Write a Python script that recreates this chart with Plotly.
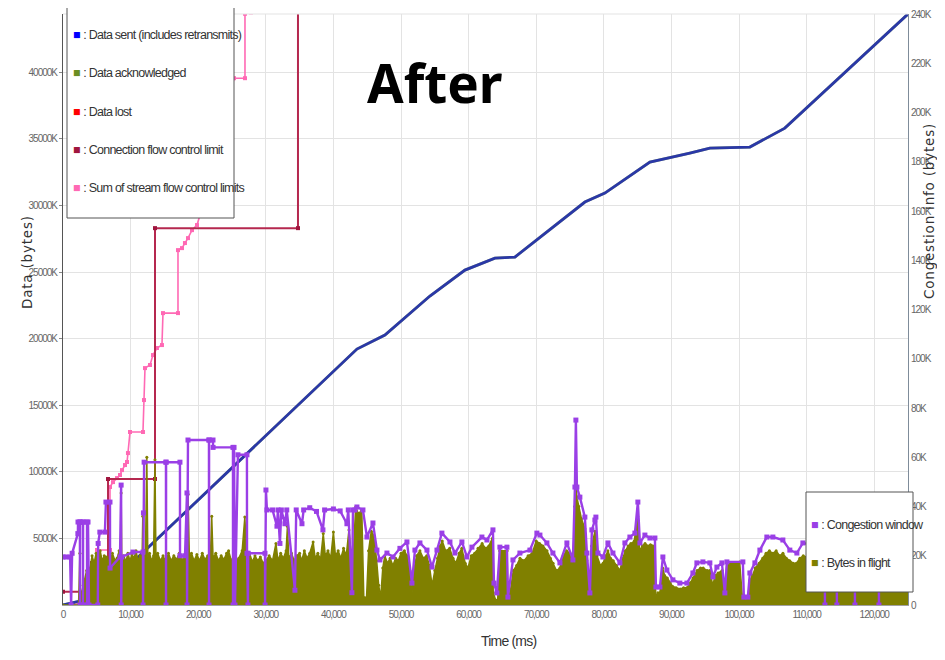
import plotly.graph_objects as go

# ---------------- data (left axis: K bytes, right axis: K bytes, time: ms) ----------------
sent_t = [0, 2500, 5000, 7500, 10350, 43480, 47620, 54280, 59460, 63890,
          66850, 70550, 77200, 80160, 86820, 92730, 95690, 101610, 106780, 124980]
sent_k = [0, 300, 1000, 2000, 3230, 19220, 20270, 23200, 25150, 26050,
          26130, 27630, 30260, 30930, 33260, 33940, 34310, 34390, 35810, 44370]

acked_t = [0, 2500, 5000, 7500, 10350, 43480, 47620, 54280, 59460, 63890,
           66850, 70550, 77200, 80160, 86820, 92730, 95690, 101610, 106780, 124980]
acked_k = [0, 300, 1000, 2000, 3230, 19220, 20270, 23200, 25150, 26050,
           26130, 27630, 30260, 30930, 33260, 33940, 34310, 34390, 35810, 44370]

conn_fc_t = [0, 4290, 4290, 6660, 6660, 13610, 13610, 34760, 34760]
conn_fc_k = [1000, 1000, 3150, 3150, 9460, 9460, 28300, 28300, 46000]

stream_fc_t = [1480, 2510, 3550, 4290, 4440, 4730, 5030, 6950, 6950, 7400,
               7990, 8430, 8730, 9170, 9470, 9610, 9910, 11830, 11980, 12130,
               12870, 13310, 13900, 14640, 14790, 17010, 17010, 17600, 18040, 18490,
               19080, 19820, 21000, 22500, 24000, 25300, 26920, 26920, 27800]
stream_fc_k = [0, 150, 600, 1130, 1650, 2850, 4130, 4130, 8860, 9230,
               9530, 9760, 10130, 10510, 10740, 11410, 12990, 12990, 15390, 17790,
               18020, 18770, 19300, 19520, 21920, 21920, 26650, 26800, 27180, 27550,
               28150, 28530, 30500, 33500, 36500, 39560, 39560, 44400, 44500]

# congestion window: (time ms, K bytes)
cwnd_points = [
    (0, 19.5), (450, 19.5), (1050, 19.5), (1200, 0), (1350, 21), (2200, 29), (2220, 33.7),
    (2500, 33.7), (2510, 0), (2520, 33.7), (2950, 33.7), (2960, 0), (2970, 33.7), (3550, 33.7),
    (3560, 0), (3700, 33.7), (3850, 0), (5150, 0), (5200, 25), (5450, 29.6), (6200, 29.6),
    (6350, 41.8), (6950, 41.8), (6960, 15), (8430, 19.5), (8600, 48.7), (8610, 0), (8700, 19.5),
    (10350, 21.5), (11830, 21.5), (11840, 0), (11900, 37.4), (12000, 58), (15230, 58), (15240, 0),
    (15250, 58), (17300, 58), (17310, 20), (18050, 20), (18340, 45.5), (18350, 0), (18490, 67),
    (21590, 67), (21600, 0), (21610, 67), (22190, 67), (22200, 64), (25140, 64), (25150, 0),
    (25300, 64), (25440, 0), (25880, 61), (27210, 61), (27220, 21), (27360, 0), (27400, 21),
    (29880, 21), (29890, 0), (30020, 46.7), (30170, 38.6), (31000, 38.6), (31650, 32), (31800, 38.6),
    (32090, 25), (32300, 38.6), (32830, 33), (33100, 38.6), (34310, 6), (34500, 38.6), (35350, 33),
    (35600, 38.6), (36500, 39.5), (37500, 38), (38450, 30.5), (38700, 38.6), (40000, 39), (41000, 38.2),
    (42000, 33), (42200, 38.6), (42740, 5), (42900, 38.6), (43190, 38.6), (43480, 39.8), (44370, 38.6),
    (44960, 27.6), (45850, 33.3), (46440, 22.3), (46880, 18.3), (47920, 21.1), (48810, 19.5),
    (49840, 23), (50880, 25.6), (51620, 8.9), (52060, 22.3), (52800, 25.2), (53840, 22.3),
    (54580, 15.4), (55320, 22.3), (56050, 29.2), (57240, 25.6), (57980, 21.1), (59010, 25.6),
    (59750, 19.5), (60490, 23.5), (61970, 27.6), (62710, 26.4), (63600, 30.5), (63750, 8.9),
    (64190, 4.9), (64630, 23.5), (65670, 23.5), (65820, 3.2), (66560, 18.3), (67590, 21.1),
    (69070, 22.3), (70100, 29.2), (70550, 28.4), (71580, 25.2), (72470, 21.1), (73510, 17.1),
    (74540, 25.2), (75430, 18.3), (75730, 47.9), (75870, 75.1), (76020, 47.9), (76460, 43.8),
    (77200, 35.7), (77500, 21.1), (77940, 4.9), (78240, 30.5), (78680, 34.5), (78830, 35.7),
    (79130, 21.1), (79870, 19.5), (80610, 25.2), (81350, 21.1), (82380, 17.1), (83120, 25.2),
    (83860, 27.6), (84600, 29.2), (85040, 41.8), (85340, 25.2), (86080, 28.4), (86820, 27.2),
    (87560, 27.2), (87710, 7.3), (88300, 7.3), (88740, 19.5), (89330, 14.2), (90220, 10.2),
    (91250, 8.9), (92290, 8.9), (93180, 13), (93770, 17.1), (94660, 17.5), (95690, 17.1),
    (96140, 11.4), (96730, 15.4), (97470, 17.1), (97910, 4.9), (98210, 17.5), (100570, 17.5),
    (100720, 3.2), (101310, 3.2), (101610, 13), (102350, 17.1), (103090, 22.3), (104120, 27.6),
    (105010, 27.6), (106490, 26.4), (107520, 22.3), (108560, 21.1), (109450, 25.2), (111960, 24),
    (112700, 24), (112710, 0), (112720, 24), (114470, 24), (114480, 0), (114490, 23), (116400, 23),
    (117140, 23), (117150, 0), (117160, 23), (120690, 24), (120700, 0), (120710, 24), (125000, 23),
]

# bytes in flight (upper envelope): (time ms, K bytes)
inflight_points = [
    (0, 0), (2300, 0), (2500, 21), (2600, 3), (3000, 8), (3500, 14), (4000, 15), (4300, 20),
    (4600, 17), (4900, 21), (5200, 19), (5500, 22), (5800, 18), (6100, 20), (6500, 19.5), (6900, 17),
    (7300, 21), (7700, 18), (8000, 19), (8300, 22), (8500, 18), (8600, 45.5), (8700, 18), (9000, 20),
    (9300, 17.5), (9600, 21), (9900, 18), (10200, 20.5), (10500, 19), (10800, 22), (11100, 18),
    (11400, 20), (11700, 19), (11800, 36), (11900, 18), (12200, 21), (12400, 60), (12550, 19),
    (12800, 21), (13100, 18), (13400, 20), (13600, 59), (13750, 19), (14000, 21), (14400, 18),
    (14800, 20), (15200, 17.5), (15600, 21), (16000, 18), (16400, 20), (16800, 18.5), (17200, 21),
    (17600, 18), (18000, 20), (18300, 22), (18500, 45), (18700, 19), (19000, 21), (19400, 18),
    (19800, 20.5), (20200, 18), (20600, 21), (21000, 18.5), (21400, 20), (21800, 19), (22000, 36),
    (22200, 19), (22600, 21), (23000, 18), (23400, 20), (23800, 18.5), (24200, 21), (24500, 22),
    (24900, 18), (25300, 20), (25700, 18), (26000, 19), (26500, 22), (26900, 35.7), (27200, 19),
    (27600, 21), (28000, 17.5), (28400, 20), (28800, 18), (29200, 19.5), (29600, 17), (30000, 18),
    (30500, 20), (31000, 18), (31500, 25), (31800, 18), (32200, 21), (32600, 19), (33000, 22),
    (33200, 32), (33400, 19), (33800, 21), (34200, 18), (34600, 20), (35000, 21), (35300, 18),
    (35700, 22), (36100, 19), (36500, 21), (37000, 25.6), (37300, 19), (37700, 21), (38100, 18.5),
    (38500, 29), (38800, 20), (39200, 22), (39600, 19), (40000, 29.6), (40300, 20), (40700, 22),
    (41100, 19), (41500, 23), (41900, 20), (42300, 30.5), (42600, 21), (43000, 24), (43300, 39.8),
    (43700, 37), (44200, 38.6), (44500, 3), (44900, 3), (45200, 22), (45600, 30), (46000, 28),
    (46400, 18), (46700, 8), (47000, 3), (47300, 15), (47600, 20), (48000, 17), (48400, 19),
    (48800, 16), (49200, 19), (49600, 18), (50000, 21), (50500, 22), (50900, 20), (51300, 14),
    (51600, 4), (51900, 14), (52300, 20), (52800, 22), (53300, 19), (53800, 20), (54200, 16),
    (54600, 8), (55000, 14), (55400, 19), (55800, 24), (56100, 26), (56600, 22), (57200, 23),
    (57700, 19), (58100, 17), (58600, 21), (59000, 23), (59500, 17), (59900, 15), (60400, 20),
    (60900, 21), (61400, 23), (62000, 25), (62500, 23), (63000, 24), (63500, 27), (63650, 5),
    (64000, 2), (64300, 2), (64600, 22), (65700, 22), (65800, 2), (66200, 6), (66600, 14),
    (67100, 16), (67600, 19), (68200, 18), (68800, 20), (69400, 21), (70000, 26), (70500, 25),
    (71000, 24), (71600, 22), (72100, 19), (72500, 17), (73000, 14), (73500, 15), (74000, 20),
    (74500, 22), (75000, 21), (75400, 14), (75700, 40), (75870, 52), (76000, 44), (76300, 40),
    (76700, 35), (77200, 31), (77500, 18), (77900, 2), (78200, 24), (78700, 30), (79000, 20),
    (79500, 16), (79900, 17), (80300, 20), (80600, 22), (81000, 19), (81400, 18), (81900, 16),
    (82400, 14), (82800, 19), (83200, 22), (83600, 24), (84000, 25), (84500, 26), (85000, 36),
    (85300, 22), (85700, 24), (86100, 25), (86500, 24), (86900, 24.5), (87500, 24), (87700, 3),
    (88000, 5), (88300, 5), (88700, 15), (89000, 12), (89400, 11), (89800, 9), (90200, 7.5),
    (90700, 7), (91300, 6.5), (91800, 7), (92300, 7), (92800, 9), (93200, 11), (93800, 14),
    (94300, 15), (94700, 15), (95300, 14), (95700, 14), (96100, 8), (96500, 12), (96900, 13),
    (97500, 14), (97900, 3), (98200, 17.5), (100100, 17.5), (100500, 3), (100700, 2), (101300, 3),
    (101600, 10), (102000, 12), (102400, 15), (103000, 17), (103500, 19), (104000, 21), (104500, 22),
    (105000, 21), (105500, 22), (106000, 20), (106500, 21), (107000, 19), (107500, 18), (108000, 17),
    (108500, 17), (109000, 19), (109500, 20), (110500, 19), (112000, 20), (114000, 19), (116000, 20),
    (118000, 19), (120000, 20), (122000, 19), (125000, 19),
]

x_ticks = [0, 10000, 20000, 30000, 40000, 50000, 60000, 70000, 80000, 90000, 100000, 110000, 120000]
x_tick_text = ["0", "10,000", "20,000", "30,000", "40,000", "50,000", "60,000", "70,000",
               "80,000", "90,000", "100,000", "110,000", "120,000"]
left_ticks = [5000, 10000, 15000, 20000, 25000, 30000, 35000, 40000]
left_tick_text = ["5000K", "10000K", "15000K", "20000K", "25000K", "30000K", "35000K", "40000K"]
right_ticks = [0, 20, 40, 60, 80, 100, 120, 140, 160, 180, 200, 220, 240]
right_tick_text = ["0", "20K", "40K", "60K", "80K", "100K", "120K", "140K", "160K", "180K", "200K", "220K", "240K"]

legend_top = [("#0000ff", "Data sent (includes retransmits)"),
              ("#6b8e23", "Data acknowledged"),
              ("#ff0000", "Data lost"),
              ("#a0153e", "Connection flow control limit"),
              ("#ff69b4", "Sum of stream flow control limits")]
legend_bottom = [("#9a3fe6", "Congestion window"),
                 ("#808000", "Bytes in flight")]

# ---------------- figure ----------------
SANS = "Liberation Sans, Arial, sans-serif"
PURPLE = "#9a3fe6"
OLIVE = "#808000"


def squeeze(txt, ls):
    return f"<span style='letter-spacing:{ls}px'>{txt}</span>"


cwnd_t = [p[0] for p in cwnd_points]
cwnd_k = [p[1] for p in cwnd_points]
inflight_t = [p[0] for p in inflight_points]
inflight_k = [p[1] for p in inflight_points]

fig = go.Figure()

fig.add_trace(go.Scatter(x=inflight_t, y=inflight_k, yaxis="y2", mode="lines+markers",
                         line=dict(color=OLIVE, width=1.5), marker=dict(size=3, color=OLIVE),
                         fill="tozeroy", fillcolor=OLIVE, name="Bytes in flight"))
fig.add_trace(go.Scatter(x=cwnd_t, y=cwnd_k, yaxis="y2", mode="lines+markers",
                         line=dict(color=PURPLE, width=2.4), marker=dict(size=5, color=PURPLE, symbol="square"),
                         name="Congestion window"))
fig.add_trace(go.Scatter(x=stream_fc_t, y=stream_fc_k, mode="lines+markers",
                         line=dict(color="#ff69b4", width=1.6), marker=dict(size=4, color="#ff69b4", symbol="square"),
                         name="Sum of stream flow control limits"))
fig.add_trace(go.Scatter(x=conn_fc_t, y=conn_fc_k, mode="lines+markers",
                         line=dict(color="#b5284f", width=2), marker=dict(size=4, color="#a0153e", symbol="square"),
                         name="Connection flow control limit"))
fig.add_trace(go.Scatter(x=acked_t, y=acked_k, mode="lines",
                         line=dict(color="#6b8e23", width=2.8), name="Data acknowledged"))
fig.add_trace(go.Scatter(x=sent_t, y=sent_k, mode="lines", opacity=0.6,
                         line=dict(color="#0000ff", width=2.8), name="Data sent (includes retransmits)"))


def px(x):  # screen pixel -> paper x
    return (x - 63) / 845.0


def py(y):  # screen pixel -> paper y
    return (605 - y) / 591.0


shapes = [
    dict(type="line", xref="paper", yref="paper", x0=0, x1=1, y0=1, y1=1,
         line=dict(color="#e3e3e3", width=1)),
    dict(type="rect", xref="paper", yref="paper", x0=px(67), x1=px(234), y0=py(218), y1=py(3),
         fillcolor="white", line=dict(color="#555555", width=1), layer="above"),
    dict(type="rect", xref="paper", yref="paper", x0=px(806), x1=px(913), y0=py(592), y1=py(492),
         fillcolor="white", line=dict(color="#555555", width=1), layer="above"),
]

annotations = []
for i, (col, label) in enumerate(legend_top):
    annotations.append(dict(xref="paper", yref="paper", x=px(71), y=py(35 + i * 38.3),
                            xanchor="left", yanchor="middle", showarrow=False,
                            text=f"<span style='color:{col}'>■</span>" + squeeze(f" : {label}", -0.75),
                            font=dict(family=SANS, size=12.5, color="#333333")))
for i, (col, label) in enumerate(legend_bottom):
    annotations.append(dict(xref="paper", yref="paper", x=px(809), y=py(525 + i * 38),
                            xanchor="left", yanchor="middle", showarrow=False,
                            text=f"<span style='color:{col}'>■</span>" + squeeze(f" : {label}", -0.75),
                            font=dict(family=SANS, size=12.5, color="#333333")))

annotations += [
    dict(xref="paper", yref="paper", x=px(435), y=py(82), xanchor="center", yanchor="middle",
         showarrow=False, text="<b>After</b>",
         font=dict(family="Noto Sans, Open Sans, sans-serif", size=53, color="#000000")),
    dict(xref="paper", yref="paper", x=px(27), y=py(262), xanchor="center", yanchor="middle",
         showarrow=False, textangle=-90, text=squeeze("Data (bytes)", 0.8),
         font=dict(family="DejaVu Sans, sans-serif", size=13.5, color="#333333")),
    dict(xref="paper", yref="paper", x=px(929), y=py(211), xanchor="center", yanchor="middle",
         showarrow=False, textangle=-90, text=squeeze("Congestion info (bytes)", 0.8),
         font=dict(family="DejaVu Sans, sans-serif", size=13.5, color="#333333")),
    dict(xref="paper", yref="paper", x=px(508), y=py(641), xanchor="center", yanchor="middle",
         showarrow=False, text=squeeze("Time (ms)", -0.8),
         font=dict(family=SANS, size=14, color="#333333")),
]

TICKFONT = dict(family=SANS, size=10, color="#666666")

fig.update_layout(
    width=929, height=644,
    margin=dict(l=55, r=29, t=6, b=47, autoexpand=False),
    paper_bgcolor="white", plot_bgcolor="white",
    showlegend=False,
    shapes=shapes, annotations=annotations,
    xaxis=dict(range=[0, 125000], tickvals=x_ticks, ticktext=[squeeze(t, -1) for t in x_tick_text],
               showgrid=True, gridcolor="#e3e3e3", gridwidth=1, zeroline=False,
               showline=True, linecolor="#a0a0a0", ticks="", automargin=False,
               tickfont=TICKFONT),
    yaxis=dict(range=[0, 44380], tickvals=left_ticks, ticktext=[squeeze(t, -1) for t in left_tick_text],
               showgrid=True, gridcolor="#e3e3e3", gridwidth=1, zeroline=False,
               showline=True, linecolor="#555555", ticks="outside", ticklen=3, tickcolor="#888888",
               automargin=False, tickfont=TICKFONT),
    yaxis2=dict(range=[0, 240], overlaying="y", side="right", tickvals=right_ticks,
                ticktext=[squeeze(t, -1) for t in right_tick_text],
                showgrid=False, zeroline=False, showline=True, linecolor="#7f8c9a", ticks="",
                automargin=False, tickfont=TICKFONT),
)

fig.write_html("out.html")
